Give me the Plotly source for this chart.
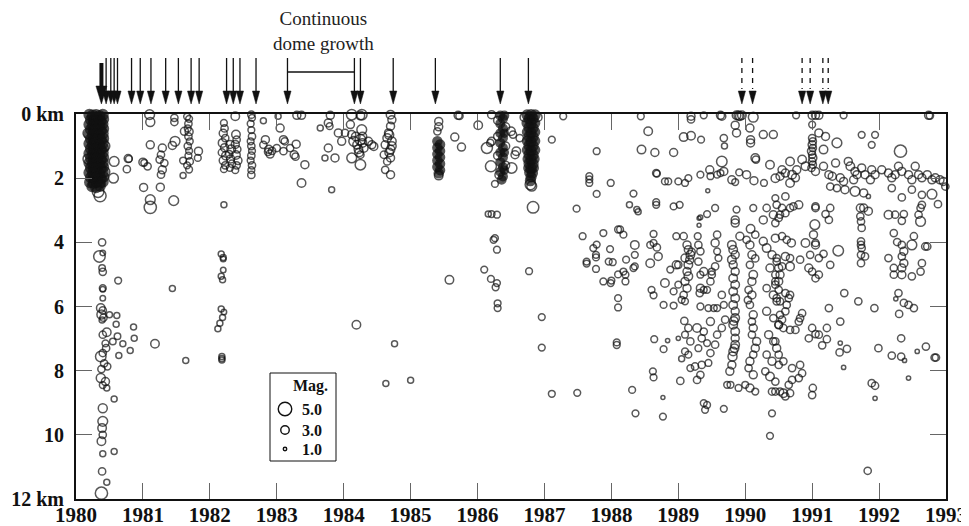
import plotly.graph_objects as go

# ---------------- data ----------------
X0, X1 = 1980, 1993
years = list(range(1980, 1994))
depth_ticks = [0, 2, 4, 6, 8, 10, 12]
depth_labels = ["0 km", "2", "4", "6", "8", "10", "12 km"]

major_eruption = [1980.38]
eruptions = [1980.45, 1980.52, 1980.57, 1980.62, 1980.83, 1980.96, 1981.12, 1981.34,
             1981.53, 1981.72, 1981.84, 1982.25, 1982.35, 1982.45, 1982.69, 1983.16,
             1984.16, 1984.25, 1984.74, 1985.37, 1986.34, 1986.76]
explosions = [1989.95, 1990.11, 1990.85, 1990.97, 1991.16, 1991.24]
dome_growth = [1983.16, 1984.16]
legend_mags = [5.0, 3.0, 1.0]

# (year, depth km, magnitude) -- dense swarms
eq_1980_column = [
    (1980.20, 0.02, 3.8), (1980.25, 0.05, 3.8), (1980.30, 0.03, 3.8), (1980.35, 0.06, 3.8), (1980.40, 0.02, 3.8),
    (1980.22, 0.18, 3.6), (1980.27, 0.20, 3.8), (1980.32, 0.17, 3.8), (1980.37, 0.21, 3.6), (1980.41, 0.16, 3.6),
    (1980.20, 0.33, 3.8), (1980.25, 0.35, 3.6), (1980.30, 0.32, 3.8), (1980.35, 0.36, 3.8), (1980.40, 0.31, 3.6),
    (1980.22, 0.48, 3.6), (1980.27, 0.50, 3.8), (1980.32, 0.47, 3.6), (1980.37, 0.51, 3.8), (1980.41, 0.46, 3.6),
    (1980.20, 0.63, 3.8), (1980.25, 0.65, 3.6), (1980.30, 0.62, 3.8), (1980.35, 0.66, 3.6), (1980.40, 0.61, 3.8),
    (1980.22, 0.78, 3.6), (1980.27, 0.80, 3.8), (1980.32, 0.77, 3.6), (1980.37, 0.81, 3.8), (1980.41, 0.76, 3.6),
    (1980.20, 0.93, 3.8), (1980.25, 0.95, 3.6), (1980.30, 0.92, 3.8), (1980.35, 0.96, 3.6), (1980.40, 0.91, 3.8),
    (1980.22, 1.08, 3.6), (1980.27, 1.10, 3.8), (1980.32, 1.07, 3.6), (1980.37, 1.11, 3.8), (1980.41, 1.06, 3.6),
    (1980.20, 1.23, 3.8), (1980.25, 1.25, 3.6), (1980.30, 1.22, 3.8), (1980.35, 1.26, 3.6), (1980.40, 1.21, 3.8),
    (1980.22, 1.38, 3.6), (1980.27, 1.40, 3.8), (1980.32, 1.37, 3.6), (1980.37, 1.41, 3.8), (1980.41, 1.36, 3.6),
    (1980.20, 1.53, 3.8), (1980.25, 1.55, 3.6), (1980.30, 1.52, 3.8), (1980.35, 1.56, 3.6), (1980.40, 1.51, 3.8),
    (1980.22, 1.68, 3.6), (1980.27, 1.70, 3.8), (1980.32, 1.67, 3.6), (1980.37, 1.71, 3.8), (1980.41, 1.66, 3.6),
    (1980.20, 1.83, 3.8), (1980.25, 1.85, 3.6), (1980.30, 1.82, 3.8), (1980.35, 1.86, 3.6), (1980.40, 1.81, 3.8),
    (1980.22, 1.98, 3.6), (1980.27, 2.00, 3.8), (1980.32, 1.97, 3.6), (1980.37, 2.01, 3.8), (1980.41, 1.96, 3.6),
    (1980.21, 2.13, 3.8), (1980.26, 2.15, 3.6), (1980.31, 2.12, 3.8), (1980.36, 2.16, 3.6), (1980.40, 2.11, 3.8),
    (1980.24, 2.26, 3.6), (1980.30, 2.28, 3.8), (1980.36, 2.25, 3.6),
]
eq_1985_column = [
    (1985.40, 0.85, 3.2), (1985.44, 0.95, 3.2), (1985.40, 1.05, 3.2), (1985.44, 1.15, 3.2), (1985.40, 1.25, 3.2),
    (1985.44, 1.35, 3.2), (1985.40, 1.45, 3.2), (1985.44, 1.55, 3.2), (1985.40, 1.65, 3.2), (1985.44, 1.75, 3.2),
    (1985.42, 1.85, 3.2),
]
eq_1986_columns = [
    (1986.34, 0.05, 3.0), (1986.38, 0.15, 3.0), (1986.34, 0.30, 3.0), (1986.38, 0.45, 3.0), (1986.34, 0.60, 3.0),
    (1986.38, 0.75, 3.0), (1986.34, 0.90, 3.0), (1986.38, 1.05, 3.0), (1986.34, 1.20, 3.0), (1986.38, 1.35, 3.0),
    (1986.34, 1.50, 3.0), (1986.38, 1.65, 3.0), (1986.34, 1.80, 3.0), (1986.38, 1.95, 3.0), (1986.36, 2.05, 3.0),
    (1986.40, 0.05, 3.0), (1986.40, 0.60, 2.8), (1986.40, 1.20, 2.8), (1986.40, 1.75, 2.8),
    (1986.74, 0.03, 3.5), (1986.80, 0.03, 3.8), (1986.86, 0.03, 3.5), (1986.77, 0.15, 3.5), (1986.83, 0.15, 3.5),
    (1986.74, 0.28, 3.5), (1986.80, 0.30, 3.5), (1986.86, 0.28, 3.2), (1986.77, 0.42, 3.5), (1986.83, 0.44, 3.5),
    (1986.74, 0.56, 3.2), (1986.80, 0.58, 3.5), (1986.86, 0.56, 3.2), (1986.77, 0.70, 3.5), (1986.83, 0.72, 3.5),
    (1986.74, 0.84, 3.2), (1986.80, 0.86, 3.5), (1986.86, 0.84, 3.2), (1986.77, 0.98, 3.5), (1986.83, 1.00, 3.5),
    (1986.74, 1.12, 3.2), (1986.80, 1.14, 3.5), (1986.86, 1.12, 3.2), (1986.77, 1.26, 3.5), (1986.83, 1.28, 3.5),
    (1986.75, 1.40, 3.2), (1986.80, 1.42, 3.5), (1986.85, 1.40, 3.2), (1986.77, 1.54, 3.5), (1986.83, 1.56, 3.5),
    (1986.76, 1.68, 3.2), (1986.80, 1.70, 3.5), (1986.84, 1.68, 3.2), (1986.78, 1.82, 3.5), (1986.82, 1.84, 3.5),
    (1986.80, 1.96, 3.5), (1986.79, 2.08, 3.5),
]

# (year, depth km, magnitude) -- other events
eq_swarm_edges = [
    (1980.33, 2.42, 4.2), (1980.36, 2.55, 4.4), (1986.79, 2.20, 3.8), (1986.81, 2.25, 3.5),
    (1985.42, 1.92, 3.0), (1985.42, 0.23, 2.8), (1985.42, 0.40, 2.8), (1985.40, 0.54, 2.5),
    (1986.30, 0.20, 2.8), (1986.42, 0.40, 2.8), (1986.30, 0.70, 2.8), (1986.42, 1.00, 2.8),
    (1986.30, 1.30, 2.8), (1986.42, 1.60, 2.8), (1986.32, 1.90, 2.8), (1986.70, 0.10, 3.0), (1986.90, 0.10, 3.0),
    (1980.18, 0.60, 3.6), (1980.18, 1.40, 3.6), (1980.43, 1.00, 3.6), (1980.43, 1.80, 3.6),
]

eq_1980_deep = [
    (1980.39, 4.00, 2.5), (1980.35, 4.44, 4.2), (1980.40, 4.33, 1.8), (1980.39, 4.80, 2.2), (1980.40, 4.92, 2.5),
    (1980.63, 5.19, 2.3), (1980.40, 5.43, 2.3), (1980.40, 5.46, 1.8), (1980.40, 5.74, 1.8), (1980.37, 6.05, 3.0),
    (1980.40, 6.12, 2.5), (1980.38, 6.25, 3.2), (1980.41, 6.35, 2.5), (1980.39, 6.42, 2.0), (1980.50, 6.26, 2.0),
    (1980.61, 6.28, 2.0), (1980.60, 6.55, 2.0), (1980.86, 6.64, 2.0), (1980.87, 6.99, 2.0), (1980.62, 6.93, 2.2),
    (1980.40, 6.88, 2.5), (1980.46, 6.80, 3.0), (1980.55, 7.09, 2.2), (1980.70, 7.16, 2.0), (1980.81, 7.37, 2.0),
    (1980.64, 7.53, 2.0), (1981.18, 7.16, 3.0), (1981.44, 5.44, 2.0), (1981.64, 7.68, 2.0), (1980.45, 7.30, 2.5),
    (1980.44, 7.15, 2.3), (1980.37, 7.56, 3.8), (1980.40, 7.45, 2.5), (1980.42, 7.77, 2.5), (1980.47, 7.87, 2.3),
    (1980.38, 7.95, 2.5), (1980.37, 8.23, 3.2), (1980.44, 8.34, 2.8), (1980.40, 8.45, 2.3), (1980.46, 8.54, 2.0),
    (1980.57, 8.88, 2.0), (1980.40, 9.17, 3.2), (1980.40, 9.58, 3.5), (1980.39, 9.79, 3.0), (1980.40, 10.00, 2.5),
    (1980.38, 10.20, 3.0), (1980.40, 10.59, 2.0), (1980.57, 10.52, 2.0), (1980.39, 11.14, 2.5), (1980.46, 11.48, 2.0),
    (1980.38, 11.82, 4.5),
]

eq_1980_1982 = [
    (1980.57, 1.48, 3.5), (1980.56, 2.00, 3.5), (1980.76, 1.72, 2.5), (1980.78, 1.39, 2.8), (1980.79, 1.40, 2.3),
    (1981.00, 1.50, 2.8), (1981.02, 1.52, 2.3), (1981.07, 1.63, 2.5), (1981.11, 0.96, 2.8), (1981.10, 0.02, 3.5),
    (1981.11, 0.25, 3.2), (1981.01, 2.29, 2.8), (1981.11, 2.67, 3.5), (1981.11, 2.91, 4.5), (1981.26, 2.28, 2.8),
    (1981.46, 2.70, 3.5), (1981.29, 1.06, 2.8), (1981.27, 1.27, 2.5), (1981.25, 1.42, 2.5), (1981.32, 1.53, 2.5),
    (1981.29, 1.74, 2.8), (1981.27, 1.89, 2.5), (1981.47, 0.12, 2.5), (1981.47, 0.25, 2.5), (1981.48, 0.85, 3.5),
    (1981.44, 0.98, 2.8), (1981.62, 0.54, 2.8),
    (1981.66, 0.08, 2.3), (1981.69, 0.15, 2.3), (1981.68, 0.30, 2.5), (1981.67, 0.45, 2.3), (1981.69, 0.55, 2.8),
    (1981.68, 0.70, 2.5), (1981.70, 0.85, 2.3), (1981.67, 1.00, 2.5), (1981.69, 1.15, 2.3), (1981.68, 1.30, 2.3),
    (1981.70, 1.48, 2.5), (1981.66, 1.60, 2.3), (1981.83, 1.16, 2.8), (1981.82, 1.37, 2.3), (1981.60, 1.45, 2.3),
    (1981.60, 1.92, 2.0), (1981.69, 1.73, 2.3),
]

eq_1982 = [
    (1982.21, 0.28, 2.3), (1982.22, 0.45, 2.5), (1982.20, 0.60, 2.8), (1982.23, 0.75, 2.5), (1982.19, 0.90, 3.0),
    (1982.22, 1.05, 2.8), (1982.18, 1.20, 2.5), (1982.24, 1.30, 3.0), (1982.20, 1.45, 2.8), (1982.23, 1.60, 2.5),
    (1982.21, 1.72, 2.3), (1982.30, 0.95, 2.8), (1982.32, 1.10, 3.0), (1982.29, 1.25, 2.5), (1982.31, 1.40, 2.8),
    (1982.33, 1.55, 2.5), (1982.30, 1.68, 2.3), (1982.39, 0.64, 3.0), (1982.40, 0.80, 2.5), (1982.38, 0.95, 2.8),
    (1982.41, 1.10, 2.5), (1982.39, 1.28, 3.0), (1982.42, 1.45, 2.8), (1982.40, 1.60, 2.5), (1982.38, 1.75, 2.3),
    (1982.38, 0.07, 3.0), (1982.21, 2.83, 2.0),
    (1982.17, 4.36, 2.0), (1982.20, 4.47, 2.0), (1982.20, 4.52, 1.8), (1982.20, 4.86, 1.8), (1982.17, 5.06, 2.0),
    (1982.19, 5.17, 2.0), (1982.17, 6.08, 2.0), (1982.21, 6.17, 1.8), (1982.19, 6.34, 2.0), (1982.15, 6.52, 2.0),
    (1982.12, 6.69, 2.0), (1982.18, 7.56, 2.0), (1982.18, 7.62, 2.0), (1982.18, 7.67, 2.0),
    (1982.62, 0.02, 2.5), (1982.63, 0.12, 2.3), (1982.61, 0.30, 2.3), (1982.62, 0.50, 2.3), (1982.63, 0.70, 2.5),
    (1982.61, 0.85, 2.3), (1982.62, 1.00, 2.5), (1982.63, 1.15, 2.3), (1982.62, 1.30, 2.5), (1982.61, 1.45, 2.3),
    (1982.63, 1.60, 2.5), (1982.62, 1.75, 2.3), (1982.62, 1.90, 2.5),
]

eq_1983_1985 = [
    (1982.80, 0.21, 2.0), (1983.02, 0.07, 2.0), (1983.05, 0.44, 2.8), (1983.30, 0.04, 2.8), (1983.37, 0.04, 2.8),
    (1983.65, 0.44, 2.0), (1983.80, 0.04, 2.8), (1983.77, 0.28, 2.8), (1983.79, 0.38, 2.3), (1982.83, 0.80, 2.8),
    (1982.80, 0.96, 2.5), (1982.88, 1.10, 2.8), (1982.93, 1.15, 2.5), (1982.90, 1.25, 2.8), (1982.87, 1.18, 2.5),
    (1983.00, 1.06, 2.5), (1983.10, 0.80, 2.8), (1983.12, 0.85, 2.5), (1983.10, 1.16, 2.5), (1983.20, 1.06, 2.5),
    (1983.26, 1.27, 2.8), (1983.28, 1.33, 2.5), (1983.29, 0.94, 2.8), (1983.42, 1.58, 2.8), (1983.37, 2.15, 3.0),
    (1983.77, 1.06, 2.8), (1983.72, 1.37, 2.0), (1983.87, 1.37, 2.8), (1983.82, 2.36, 2.0), (1983.92, 0.59, 2.8),
    (1983.97, 0.85, 2.8), (1984.02, 0.59, 2.5),
    (1984.12, 0.02, 3.8), (1984.27, 0.02, 3.8), (1984.25, 0.05, 3.0), (1984.10, 0.33, 2.8), (1984.27, 0.49, 3.5),
    (1984.12, 0.64, 2.8), (1984.15, 0.85, 3.5), (1984.20, 0.96, 3.0), (1984.25, 0.80, 3.8), (1984.30, 1.06, 3.0),
    (1984.25, 1.27, 2.5), (1984.12, 1.37, 3.5), (1984.25, 1.58, 3.8), (1984.22, 1.10, 3.0), (1984.18, 0.70, 3.0),
    (1984.28, 0.90, 3.0), (1984.23, 1.20, 3.0), (1984.28, 0.70, 3.0), (1984.37, 0.85, 2.8), (1984.42, 0.96, 2.8),
    (1984.45, 1.01, 2.8), (1984.19, 6.57, 3.0), (1984.76, 7.16, 2.0), (1984.63, 8.40, 2.0), (1985.00, 8.30, 2.0),
    (1984.70, 0.02, 3.0), (1984.72, 0.18, 2.8), (1984.70, 0.38, 2.8), (1984.67, 0.59, 2.8), (1984.65, 0.75, 3.0),
    (1984.72, 0.85, 3.0), (1984.62, 0.96, 2.8), (1984.70, 1.11, 3.0), (1984.60, 1.27, 2.5), (1984.70, 1.37, 2.8),
    (1984.65, 1.48, 2.5), (1984.62, 1.74, 2.5), (1984.70, 1.89, 2.8), (1984.68, 0.65, 3.2), (1984.72, 1.00, 3.0),
    (1984.68, 1.20, 3.0), (1985.58, 5.17, 3.0),
]

eq_1986_1988 = [
    (1985.71, 0.04, 2.8), (1985.73, 0.06, 2.5), (1986.01, 0.35, 3.0), (1985.66, 0.72, 2.8), (1985.76, 1.03, 2.8),
    (1986.21, 0.02, 2.8), (1986.14, 1.06, 4.0), (1986.21, 0.85, 2.8), (1986.19, 0.90, 2.5), (1986.20, 1.63, 4.0),
    (1986.50, 0.54, 3.0), (1986.53, 0.64, 2.5), (1986.58, 1.16, 3.0), (1986.56, 1.27, 2.8), (1986.63, 0.75, 2.5),
    (1986.51, 1.68, 3.8), (1986.26, 2.18, 2.3), (1986.83, 2.91, 4.2), (1987.11, 0.80, 2.3), (1987.28, 0.07, 2.3),
    (1987.78, 1.16, 2.3), (1987.67, 1.94, 2.3), (1987.67, 2.04, 2.3), (1987.67, 2.15, 2.3), (1987.99, 2.15, 2.3),
    (1987.78, 2.49, 2.3), (1987.48, 2.95, 2.3), (1986.16, 3.12, 2.0), (1986.21, 3.12, 2.3), (1986.29, 3.14, 2.3),
    (1986.24, 3.92, 2.3), (1986.26, 3.87, 2.3), (1986.29, 4.23, 2.3), (1986.10, 4.85, 2.3), (1986.20, 5.14, 2.3),
    (1986.29, 5.27, 2.3), (1986.27, 5.40, 2.3), (1986.30, 5.90, 2.3), (1986.30, 6.05, 2.3), (1986.77, 4.90, 2.3),
    (1986.96, 6.33, 2.3), (1986.96, 7.28, 2.3), (1987.11, 8.72, 2.3), (1987.49, 8.69, 2.3), (1987.57, 3.81, 2.3),
    (1987.88, 3.71, 2.3), (1987.78, 4.07, 2.3), (1987.73, 4.18, 2.3), (1987.77, 4.39, 2.3), (1987.77, 4.47, 2.3),
    (1987.63, 4.60, 2.3), (1987.63, 4.66, 2.3), (1987.77, 4.83, 2.3), (1987.98, 4.21, 2.3), (1987.96, 4.60, 2.3),
    (1988.02, 4.62, 2.3), (1987.88, 5.22, 2.3), (1987.99, 5.27, 2.3), (1988.00, 5.19, 2.3),
]

eq_1988_1990 = [
    (1988.44, 0.07, 2.3), (1988.55, 0.54, 3.0), (1988.45, 1.11, 3.0), (1988.65, 1.20, 2.8), (1988.93, 1.20, 2.8),
    (1989.08, 0.72, 3.0), (1989.19, 0.68, 3.0), (1989.34, 0.80, 2.3), (1989.19, 0.07, 2.8), (1989.19, 0.17, 2.5),
    (1989.38, 0.04, 2.3), (1989.63, 0.04, 2.8), (1989.65, 0.07, 2.8), (1989.87, 0.04, 3.0), (1989.92, 0.07, 3.0),
    (1989.95, 0.04, 3.0), (1989.90, 0.05, 3.2), (1990.12, 0.10, 3.5), (1989.85, 0.35, 2.8), (1989.87, 0.59, 2.8),
    (1990.07, 0.44, 2.8), (1990.08, 0.80, 2.8), (1990.08, 0.90, 2.8), (1990.15, 1.37, 3.0), (1990.16, 1.42, 2.5),
    (1990.27, 0.64, 2.8), (1990.42, 0.64, 2.8), (1989.65, 1.48, 3.8), (1989.68, 0.75, 2.5), (1989.69, 1.00, 2.0),
    (1988.67, 1.84, 2.5), (1988.68, 1.86, 2.3), (1988.80, 2.10, 2.3), (1988.85, 2.10, 2.3), (1989.00, 2.10, 2.3),
    (1989.10, 2.15, 2.3), (1989.15, 2.00, 2.3), (1989.33, 1.89, 2.3), (1989.47, 1.74, 2.8), (1989.48, 1.94, 2.3),
    (1989.58, 1.89, 2.3), (1989.63, 1.84, 2.3), (1989.68, 1.79, 2.8), (1989.80, 2.05, 2.8), (1989.85, 2.12, 2.3),
    (1989.91, 1.82, 2.3), (1990.02, 1.89, 2.8), (1990.13, 2.08, 2.8), (1990.28, 2.15, 2.3), (1990.37, 1.58, 3.0),
    (1990.45, 2.00, 3.0), (1988.33, 2.48, 2.3), (1988.27, 2.83, 2.0), (1988.38, 2.98, 2.0), (1988.40, 3.05, 2.0),
    (1988.67, 2.75, 2.3), (1988.67, 2.83, 2.3), (1988.93, 2.88, 2.3), (1989.02, 2.83, 2.3), (1989.44, 2.39, 1.2),
    (1989.33, 3.22, 1.5), (1989.43, 3.12, 2.3), (1989.55, 2.93, 2.3), (1989.85, 3.30, 2.8), (1989.85, 3.40, 2.8),
    (1989.87, 2.98, 2.3), (1990.12, 2.93, 2.3), (1990.27, 3.30, 2.8), (1990.32, 2.93, 2.5), (1990.42, 3.14, 2.8),
    (1990.45, 2.62, 2.3), (1990.08, 3.58, 3.0), (1990.15, 3.76, 2.5), (1988.13, 3.60, 2.3), (1988.18, 3.76, 2.3),
    (1988.63, 3.74, 2.3), (1988.35, 4.08, 3.0), (1988.35, 4.39, 2.3), (1988.22, 4.54, 2.3), (1988.58, 4.08, 2.3),
    (1988.63, 4.02, 2.3), (1988.68, 4.16, 2.5), (1988.70, 4.44, 2.8), (1988.58, 4.65, 3.0), (1988.18, 4.91, 2.3),
    (1988.21, 5.22, 2.3), (1988.21, 5.01, 2.3), (1988.33, 4.80, 2.3), (1988.35, 4.75, 2.3), (1988.80, 5.27, 3.0),
    (1988.60, 5.48, 2.3), (1988.63, 5.65, 2.3), (1988.78, 5.95, 2.3), (1988.93, 5.97, 2.3), (1988.93, 5.53, 2.3),
    (1989.00, 5.32, 2.3), (1988.97, 3.81, 2.3), (1989.08, 3.81, 2.5), (1988.97, 4.70, 2.8), (1989.00, 4.70, 2.5),
    (1988.88, 4.85, 2.3), (1988.08, 7.12, 2.3), (1988.08, 7.20, 2.3), (1988.10, 5.74, 2.3), (1988.10, 6.03, 2.3),
    (1988.10, 5.00, 2.3), (1988.10, 3.60, 2.3),
    (1989.13, 4.08, 2.8), (1989.15, 4.23, 2.8), (1989.18, 4.39, 3.0), (1989.10, 4.49, 2.8), (1989.15, 4.70, 3.0),
    (1989.13, 4.91, 2.8), (1989.15, 5.06, 3.0), (1989.10, 5.22, 2.8), (1989.13, 5.43, 2.8), (1989.08, 5.64, 2.5),
    (1989.05, 5.79, 2.3), (1989.10, 5.84, 2.3), (1989.17, 4.55, 2.8), (1989.20, 4.30, 2.5),
    (1989.29, 3.81, 2.3), (1989.30, 4.08, 2.5), (1989.33, 4.28, 2.5), (1989.30, 4.60, 2.5), (1989.38, 4.91, 2.8),
    (1989.33, 5.01, 2.3), (1989.33, 5.43, 2.8), (1989.32, 5.58, 2.5), (1989.38, 5.48, 2.3), (1989.43, 5.48, 2.3),
    (1989.33, 6.00, 2.3), (1989.58, 3.76, 2.5), (1989.55, 4.02, 2.8), (1989.58, 4.28, 2.3), (1989.60, 4.49, 2.3),
    (1989.55, 4.75, 2.5), (1989.50, 4.91, 2.3), (1989.50, 5.01, 2.5), (1989.48, 5.22, 2.5), (1989.45, 6.05, 2.3),
    (1989.53, 6.05, 2.3), (1989.58, 6.05, 2.3), (1989.65, 5.64, 2.5), (1989.68, 5.95, 2.3),
    (1989.80, 4.08, 3.0), (1989.82, 4.23, 3.0), (1989.85, 4.39, 2.8), (1989.80, 4.54, 3.0), (1989.82, 4.70, 2.8),
    (1989.85, 4.91, 2.8), (1989.82, 5.12, 3.0), (1989.85, 5.32, 3.0), (1989.82, 5.53, 3.0), (1989.85, 5.74, 3.0),
    (1989.82, 5.95, 3.0), (1989.85, 6.15, 2.8), (1989.85, 6.36, 3.0), (1989.82, 6.57, 3.0), (1989.85, 6.78, 3.0),
    (1989.85, 6.99, 2.8), (1989.85, 7.19, 3.0), (1989.82, 7.40, 3.0), (1989.81, 7.56, 3.2), (1989.80, 7.82, 2.8),
    (1989.77, 8.02, 2.8), (1989.84, 7.30, 3.0), (1989.83, 6.45, 3.0), (1989.92, 3.81, 2.8), (1990.02, 3.92, 2.5),
    (1990.07, 4.08, 2.8), (1990.10, 4.39, 2.8), (1990.07, 4.70, 2.5), (1990.12, 5.01, 3.0), (1990.10, 5.22, 2.8),
    (1990.05, 5.48, 2.5), (1990.10, 5.64, 2.8), (1990.07, 5.95, 2.5), (1990.12, 6.26, 2.8), (1990.10, 6.47, 2.5),
    (1990.12, 6.67, 2.8), (1990.10, 6.88, 2.5), (1990.17, 7.09, 2.8), (1990.15, 7.30, 2.8), (1990.12, 7.50, 2.5),
    (1990.07, 7.71, 2.8), (1990.05, 7.92, 2.5), (1990.12, 8.13, 2.8), (1990.15, 4.50, 2.5), (1990.04, 5.80, 2.5),
    (1990.27, 3.97, 2.8), (1990.32, 4.18, 3.0), (1990.40, 4.39, 2.8), (1990.47, 4.60, 2.5), (1990.37, 4.80, 2.8),
    (1990.45, 5.01, 2.5), (1990.50, 5.22, 2.8), (1990.32, 5.43, 2.5), (1990.42, 5.64, 2.8), (1990.47, 5.84, 2.5),
    (1990.32, 6.15, 2.8), (1990.42, 6.36, 2.5), (1990.50, 6.57, 2.8), (1990.35, 6.88, 2.8), (1990.42, 7.09, 2.5),
    (1990.47, 7.30, 2.8), (1990.32, 7.50, 2.5), (1990.40, 7.71, 2.8), (1990.30, 8.02, 2.5), (1990.37, 8.18, 3.0),
    (1990.45, 8.34, 2.5),
    (1989.09, 6.45, 2.5), (1989.15, 6.67, 2.5), (1989.10, 6.88, 2.3), (1989.18, 7.09, 2.5), (1989.28, 6.67, 3.0),
    (1989.38, 6.78, 2.5), (1989.35, 6.99, 2.5), (1989.30, 7.30, 2.3), (1989.43, 7.14, 2.3), (1989.48, 7.45, 2.5),
    (1989.45, 7.76, 2.3), (1989.35, 7.82, 2.5), (1989.25, 7.87, 2.5), (1989.18, 7.92, 2.3), (1989.33, 8.13, 2.5),
    (1989.28, 8.29, 2.5), (1989.03, 8.32, 2.5), (1989.10, 7.40, 2.3), (1989.15, 7.50, 2.3), (1989.05, 7.63, 2.0),
    (1989.48, 6.47, 2.8), (1989.58, 6.88, 2.5), (1989.55, 7.19, 2.5), (1989.70, 6.41, 2.5), (1989.65, 6.67, 2.5),
    (1989.73, 8.44, 2.3), (1989.78, 8.44, 2.3), (1989.90, 8.54, 2.3), (1990.00, 8.44, 2.3), (1990.07, 8.54, 2.8),
    (1990.15, 8.65, 2.3), (1988.64, 7.02, 2.3), (1988.78, 7.33, 2.3), (1988.62, 8.02, 2.3), (1988.63, 8.21, 2.3),
    (1988.31, 8.60, 2.3), (1988.77, 8.84, 1.2), (1988.36, 9.33, 2.3), (1988.77, 9.43, 2.3), (1989.38, 9.01, 2.3),
    (1989.43, 9.07, 2.3), (1989.40, 9.22, 2.3), (1989.68, 9.19, 2.3), (1990.40, 9.33, 2.3), (1990.37, 10.03, 2.3),
    (1990.40, 8.65, 2.5), (1990.45, 8.65, 2.5), (1989.31, 3.47, 1.2), (1989.31, 3.25, 1.2), (1988.84, 7.06, 1.3),
    (1989.00, 6.99, 1.3),
]

eq_1990_1993 = [
    (1990.76, 0.04, 2.3), (1991.00, 0.04, 2.8), (1991.05, 0.04, 2.8), (1991.10, 0.04, 2.8), (1991.47, 0.04, 2.3),
    (1992.74, 0.04, 2.8), (1992.76, 0.05, 2.5), (1991.00, 0.33, 2.3), (1991.10, 0.59, 2.8), (1991.20, 0.70, 2.8),
    (1991.00, 0.75, 2.5), (1991.01, 0.85, 2.5), (1991.00, 0.96, 2.8), (1991.01, 1.06, 2.5), (1990.99, 1.16, 2.8),
    (1991.00, 1.27, 2.5), (1991.01, 1.37, 2.8), (1991.00, 1.48, 2.5), (1991.01, 1.58, 2.5), (1990.99, 1.68, 2.5),
    (1991.17, 1.11, 3.0), (1991.37, 0.90, 3.5), (1991.74, 0.65, 2.3), (1991.94, 0.65, 2.3), (1991.89, 0.96, 2.3),
    (1992.32, 1.16, 4.5),
    (1990.85, 1.42, 3.0), (1990.67, 1.48, 3.0), (1990.55, 1.74, 2.8), (1990.52, 1.94, 2.8), (1990.60, 1.84, 2.8),
    (1990.70, 1.89, 3.0), (1990.67, 2.15, 3.0), (1990.75, 1.99, 2.8), (1990.77, 1.74, 2.8), (1990.90, 1.63, 3.0),
    (1991.05, 1.79, 2.8), (1991.17, 1.63, 2.8), (1991.25, 1.89, 2.8), (1991.30, 1.94, 2.8), (1991.35, 1.53, 2.8),
    (1991.42, 1.99, 2.8), (1991.47, 2.10, 2.8), (1991.54, 1.48, 2.8), (1991.57, 1.63, 3.0), (1991.64, 1.79, 2.8),
    (1991.62, 2.05, 2.8), (1991.67, 1.89, 2.8), (1991.74, 1.68, 2.8), (1991.79, 1.89, 2.8), (1991.87, 2.05, 2.8),
    (1991.89, 1.74, 2.8), (1991.94, 1.89, 2.8), (1992.04, 1.74, 2.8), (1992.14, 1.84, 2.8), (1992.19, 1.99, 2.8),
    (1992.24, 1.89, 2.8), (1992.29, 1.63, 2.8), (1992.34, 1.79, 2.8), (1992.44, 1.89, 2.8), (1992.49, 2.05, 2.8),
    (1992.54, 1.63, 2.8), (1992.59, 1.89, 2.8), (1992.64, 1.99, 2.8), (1992.72, 1.89, 2.8), (1992.79, 2.05, 2.8),
    (1992.84, 1.99, 2.8), (1992.91, 2.05, 2.8), (1992.96, 2.10, 2.8), (1992.99, 2.26, 2.5),
    (1991.27, 2.26, 2.5), (1991.37, 2.31, 2.5), (1991.49, 2.36, 2.8), (1991.64, 2.41, 3.5), (1991.77, 2.46, 2.8),
    (1991.84, 2.57, 1.3), (1992.19, 2.31, 2.5), (1992.34, 2.60, 2.5), (1992.49, 2.36, 2.5), (1992.64, 2.52, 2.5),
    (1992.79, 2.50, 3.5), (1992.88, 2.81, 2.5), (1990.60, 2.57, 2.5), (1990.47, 2.83, 2.5), (1990.55, 2.93, 2.5),
    (1990.67, 2.93, 2.5), (1990.72, 2.88, 2.5), (1990.80, 2.83, 2.8), (1990.52, 3.14, 2.5), (1990.60, 3.09, 2.5),
    (1990.50, 3.24, 2.5), (1990.45, 3.40, 2.5), (1991.05, 2.88, 2.5), (1991.05, 2.93, 2.5), (1991.20, 3.12, 2.5),
    (1991.27, 2.93, 2.5), (1991.25, 3.30, 2.5), (1991.04, 3.45, 3.5), (1991.72, 2.93, 2.8), (1991.77, 2.93, 2.8),
    (1991.84, 3.03, 2.8), (1991.72, 3.19, 2.5), (1991.73, 3.35, 2.5), (1991.74, 3.55, 2.5), (1992.14, 3.14, 3.0),
    (1992.24, 3.14, 2.5), (1992.37, 3.12, 2.5), (1992.34, 3.33, 2.5), (1992.64, 2.83, 2.5), (1992.62, 2.93, 2.5),
    (1992.59, 3.14, 2.5), (1992.62, 3.35, 3.5),
    (1990.45, 3.87, 2.8), (1990.55, 3.81, 2.5), (1990.62, 3.92, 2.5), (1990.69, 4.02, 2.8), (1990.90, 4.02, 3.0),
    (1991.05, 4.08, 2.8), (1991.02, 3.76, 2.8), (1991.05, 4.02, 2.5), (1990.97, 4.39, 2.5), (1991.10, 4.49, 2.5),
    (1991.17, 4.36, 2.5), (1991.39, 4.26, 3.8), (1990.47, 4.49, 2.5), (1990.50, 4.80, 2.8), (1990.52, 5.01, 2.8),
    (1990.45, 5.22, 2.5), (1990.55, 4.75, 2.5), (1990.60, 4.44, 2.8), (1990.67, 4.49, 2.5), (1990.67, 4.75, 3.0),
    (1990.82, 4.54, 2.5), (1990.95, 4.80, 2.8), (1991.00, 4.91, 2.5), (1991.05, 5.12, 2.5), (1991.10, 5.01, 2.5),
    (1991.27, 4.70, 2.5), (1991.73, 3.97, 2.5), (1991.73, 4.08, 2.5), (1991.74, 4.18, 2.5), (1991.73, 4.39, 2.5),
    (1991.79, 4.44, 2.5), (1991.73, 4.65, 2.5), (1992.22, 3.71, 2.5), (1992.27, 3.99, 2.5), (1992.34, 4.08, 2.5),
    (1992.37, 4.28, 2.8), (1992.34, 4.44, 2.5), (1992.49, 4.08, 3.5), (1992.52, 3.81, 2.5), (1992.69, 4.13, 2.5),
    (1992.64, 4.65, 2.5), (1992.37, 4.65, 2.8), (1992.34, 4.80, 2.8), (1992.22, 4.80, 2.5), (1992.22, 5.01, 2.5),
    (1992.34, 5.01, 2.8), (1992.49, 5.06, 2.5), (1992.62, 4.91, 2.5), (1992.14, 4.49, 2.5), (1992.72, 4.13, 2.5),
    (1990.45, 5.32, 2.5), (1990.50, 5.48, 2.5), (1990.60, 5.58, 2.5), (1990.67, 5.64, 2.5), (1990.47, 5.74, 2.5),
    (1990.52, 5.84, 2.5), (1990.62, 5.95, 2.5), (1990.65, 5.74, 2.5), (1991.48, 5.58, 2.5), (1991.69, 5.84, 2.5),
    (1991.93, 6.05, 2.5), (1992.29, 5.58, 2.5), (1992.25, 5.76, 1.3), (1992.37, 5.89, 2.5), (1992.44, 5.95, 2.5),
    (1992.52, 6.05, 2.5), (1992.30, 6.23, 2.5), (1991.25, 6.05, 2.5), (1991.42, 6.47, 2.5),
    (1990.52, 6.26, 2.5), (1990.60, 6.15, 2.5), (1990.55, 6.41, 2.5), (1990.50, 6.57, 2.5), (1990.57, 6.67, 2.5),
    (1990.67, 6.73, 2.5), (1990.75, 6.73, 2.5), (1990.82, 6.36, 2.5), (1990.85, 6.21, 2.5), (1990.80, 6.47, 2.5),
    (1991.00, 6.67, 2.5), (1991.10, 6.88, 2.5), (1990.95, 6.99, 2.5), (1991.22, 6.67, 2.5), (1991.22, 7.02, 2.5),
    (1991.15, 7.21, 2.5), (1991.05, 6.86, 2.5), (1991.42, 7.14, 1.3), (1991.41, 7.43, 2.5), (1991.52, 7.32, 2.5),
    (1991.99, 7.30, 2.5), (1992.33, 6.99, 2.5), (1992.19, 7.53, 2.5), (1992.33, 7.56, 2.5), (1992.38, 7.68, 1.3),
    (1992.57, 7.40, 1.3), (1992.70, 7.25, 2.5), (1992.83, 7.59, 2.5), (1992.85, 7.59, 2.5), (1991.47, 7.90, 1.3),
    (1992.44, 8.23, 1.3), (1991.89, 8.39, 2.5), (1991.94, 8.47, 2.5), (1991.94, 8.86, 1.3),
    (1990.45, 7.09, 2.5), (1990.50, 7.50, 2.5), (1990.57, 7.71, 2.5), (1990.50, 7.82, 2.5), (1990.70, 7.92, 2.5),
    (1990.82, 7.82, 2.5), (1990.85, 8.08, 2.5), (1990.80, 8.23, 2.5), (1990.70, 8.29, 2.5), (1990.65, 8.44, 2.5),
    (1990.57, 8.70, 3.0), (1990.60, 8.80, 2.5), (1990.67, 8.70, 2.5), (1990.52, 8.65, 2.5), (1991.00, 8.76, 2.5),
    (1991.01, 8.54, 2.5), (1991.83, 11.12, 2.5),
]

dense_groups = [eq_1980_column, eq_1985_column, eq_1986_columns]
sparse_groups = [eq_swarm_edges, eq_1980_deep, eq_1980_1982, eq_1982, eq_1983_1985,
                 eq_1986_1988, eq_1988_1990, eq_1990_1993]

# ---------------- layout constants ----------------
PAGE = 8                       # default page margin of the html body
W, H = 969 - PAGE, 526 - PAGE  # figure size so that it ends at the window edge
PLOT_L, PLOT_R, PLOT_T, PLOT_B = 76, 946, 114, 499   # plot box in window pixels
ML, MT = PLOT_L - PAGE, PLOT_T - PAGE
MR, MB = W - (PLOT_R - PAGE), H - (PLOT_B - PAGE)
PW, PH = PLOT_R - PLOT_L, PLOT_B - PLOT_T
SERIF = "Liberation Serif"
INK = "#111"


def mag_size(m):
    return 2.5 * m + 1.0


def xp(d):
    return (d - X0) / (X1 - X0)


def xpx(px):
    return (px - PLOT_L) / PW


def yp(py):
    return (PLOT_B - py) / PH


fig = go.Figure()
for g in dense_groups:
    fig.add_trace(go.Scatter(
        x=[p[0] for p in g], y=[p[1] for p in g], mode="markers",
        marker=dict(symbol="circle", size=[mag_size(p[2]) for p in g],
                    color=INK, line=dict(width=1.5, color=INK)),
        cliponaxis=False, showlegend=False, hoverinfo="skip"))
for g in sparse_groups:
    fig.add_trace(go.Scatter(
        x=[p[0] for p in g], y=[p[1] for p in g], mode="markers",
        marker=dict(symbol="circle-open", size=[mag_size(p[2]) for p in g],
                    color=INK, line=dict(width=1.5)),
        cliponaxis=False, showlegend=False, hoverinfo="skip"))

shapes = []
tip, base, top = yp(104), yp(91), yp(58)
hw = 3.6 / PW
for d in eruptions:
    shapes.append(dict(type="line", xref="paper", yref="paper", x0=xp(d), x1=xp(d), y0=top, y1=base - 0.003,
                       line=dict(color=INK, width=1.3)))
    shapes.append(dict(type="path", xref="paper", yref="paper",
                       path=f"M {xp(d)-hw},{base} L {xp(d)+hw},{base} L {xp(d)},{tip} Z",
                       fillcolor=INK, line=dict(color=INK, width=0.5)))
for d in major_eruption:
    hwb = 5.5 / PW
    shapes.append(dict(type="line", xref="paper", yref="paper", x0=xp(d), x1=xp(d), y0=yp(63), y1=yp(88),
                       line=dict(color=INK, width=4)))
    shapes.append(dict(type="path", xref="paper", yref="paper",
                       path=f"M {xp(d)-hwb},{yp(86)} L {xp(d)+hwb},{yp(86)} L {xp(d)},{tip} Z",
                       fillcolor=INK, line=dict(color=INK, width=0.5)))
for d in explosions:
    shapes.append(dict(type="line", xref="paper", yref="paper", x0=xp(d), x1=xp(d), y0=top, y1=yp(89),
                       line=dict(color=INK, width=1.3, dash="5px,5px")))
    shapes.append(dict(type="path", xref="paper", yref="paper",
                       path=f"M {xp(d)-hw},{base} L {xp(d)+hw},{base} L {xp(d)},{tip} Z",
                       fillcolor=INK, line=dict(color=INK, width=0.5)))
shapes.append(dict(type="line", xref="paper", yref="paper", x0=xp(dome_growth[0]), x1=xp(dome_growth[1]),
                   y0=yp(72), y1=yp(72), line=dict(color=INK, width=1.3)))

# magnitude key
LX0, LX1, LY0, LY1 = 270, 336, 373, 461
shapes.append(dict(type="rect", xref="paper", yref="paper", x0=xpx(LX0), x1=xpx(LX1),
                   y0=yp(LY1), y1=yp(LY0), line=dict(color=INK, width=1), fillcolor="white", layer="above"))
annotations = [dict(text="<b>Mag.</b>", xref="paper", yref="paper", x=xpx(310), y=yp(386),
                    xanchor="center", yanchor="middle", showarrow=False,
                    font=dict(family=SERIF, size=16, color=INK))]
key_rows = [409, 430, 449]
for m, ry in zip(legend_mags, key_rows):
    r = mag_size(m) / 2
    shapes.append(dict(type="circle", xref="paper", yref="paper", xsizemode="pixel", ysizemode="pixel",
                       xanchor=xpx(285), yanchor=yp(ry), x0=-r, x1=r, y0=-r, y1=r,
                       line=dict(color=INK, width=1.4), layer="above"))
    annotations.append(dict(text=f"<b>{m:.1f}</b>", xref="paper", yref="paper", x=xpx(300), y=yp(ry),
                            xanchor="left", yanchor="middle", showarrow=False,
                            font=dict(family=SERIF, size=16, color=INK)))

annotations.append(dict(text="Continuous<br>dome growth", xref="paper", yref="paper",
                        x=xpx(323), y=yp(31), xanchor="center", yanchor="middle",
                        showarrow=False, align="center",
                        font=dict(family=SERIF, size=19, color="#222")))

axis_common = dict(showline=True, linewidth=2, linecolor=INK, mirror="ticks", ticks="inside",
                   ticklen=16, tickwidth=1, tickcolor="#666", showgrid=False, zeroline=False,
                   automargin=False)

fig.update_layout(
    width=W, height=H, margin=dict(l=ML, r=MR, t=MT, b=MB),
    paper_bgcolor="white", plot_bgcolor="white",
    xaxis=dict(range=[X0, X1], tickvals=years, ticktext=[str(y) for y in years],
               ticklabelstandoff=-4, tickfont=dict(family=SERIF, size=21, color=INK, weight="bold"),
               **axis_common),
    yaxis=dict(range=[12, 0], tickvals=depth_ticks, ticktext=depth_labels, ticklabelstandoff=6,
               tickfont=dict(family=SERIF, size=20, color=INK, weight="bold"), **axis_common),
    shapes=shapes, annotations=annotations,
)

fig.write_html("out.html")
